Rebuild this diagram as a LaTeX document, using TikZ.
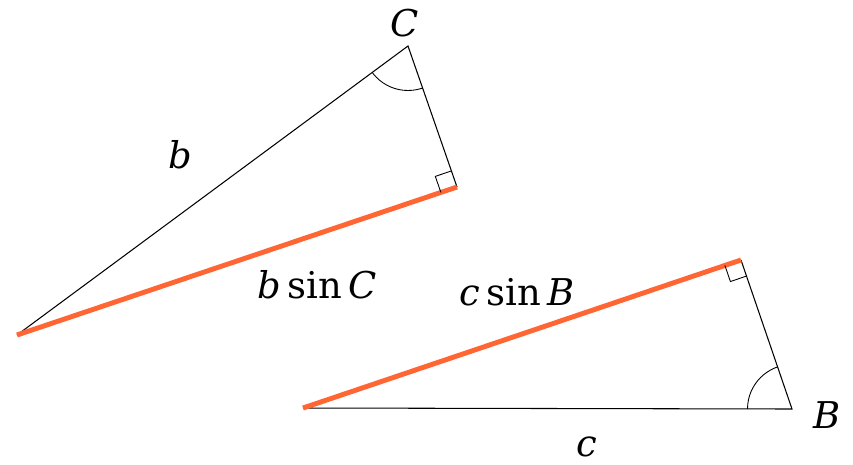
\documentclass[tikz,border=0pt]{standalone}
\usepackage{fontspec}
\setmainfont{DejaVu Serif}
\usetikzlibrary{calc}
\definecolor{proj}{RGB}{255,102,51}
\tikzset{
  side/.style={black, line width=0.6pt},
  height/.style={proj, line width=2.8pt},
  tick/.style={black, line width=0.5pt},
  lbl/.style={font=\fontsize{21}{25}\selectfont, inner sep=0pt},
}
\newcommand{\sqmark}[3]{% corner, towards 1, towards 2
  \draw[tick] ($(#1)!0.34cm!(#2)$) -- ($($(#1)!0.34cm!(#2)$)+($(#1)!0.34cm!(#3)$)-(#1)$) -- ($(#1)!0.34cm!(#3)$);}
\newcommand{\arcmark}[3]{% vertex, towards 1, towards 2
  \begin{scope}\clip (#1) -- (#2) -- (#3) -- cycle;
  \draw[tick] (#1) circle (0.89cm);\end{scope}}

\begin{document}
\begin{tikzpicture}[x=0.02cm, y=-0.02cm]
        \useasboundingbox (0,0) rectangle (853,464);
        % first triangle
        \coordinate (a1) at (17,335);
        \coordinate (vC) at (408,46);
        \coordinate (h1) at (457,187);
        \draw[side] (a1) -- (vC) -- (h1);
        \draw[height] (a1) -- (h1);
        \sqmark{h1}{vC}{a1}
        \arcmark{vC}{a1}{h1}
        \node[lbl] (lC)  at (405,23)  {\itshape C};
        \node[lbl] (lb)  at (180,155) {\itshape b};
        \node[lbl] (lbC) at (317,285) {{\itshape b}\,sin\,{\itshape C}};
        % second triangle
        \coordinate (a2) at (303,408);
        \coordinate (vB) at (792,409);
        \coordinate (h2) at (741,260);
        \draw[side] (a2) -- (vB) -- (h2);
        \draw[height] (a2) -- (h2);
        \sqmark{h2}{vB}{a2}
        \arcmark{vB}{a2}{h2}
        \node[lbl] (lB)  at (827,415) {\itshape B};
        \node[lbl] (lc)  at (587,447) {\itshape c};
        \node[lbl] (lcB) at (517,292) {{\itshape c}\,sin\,{\itshape B}};
\end{tikzpicture}
\end{document}
